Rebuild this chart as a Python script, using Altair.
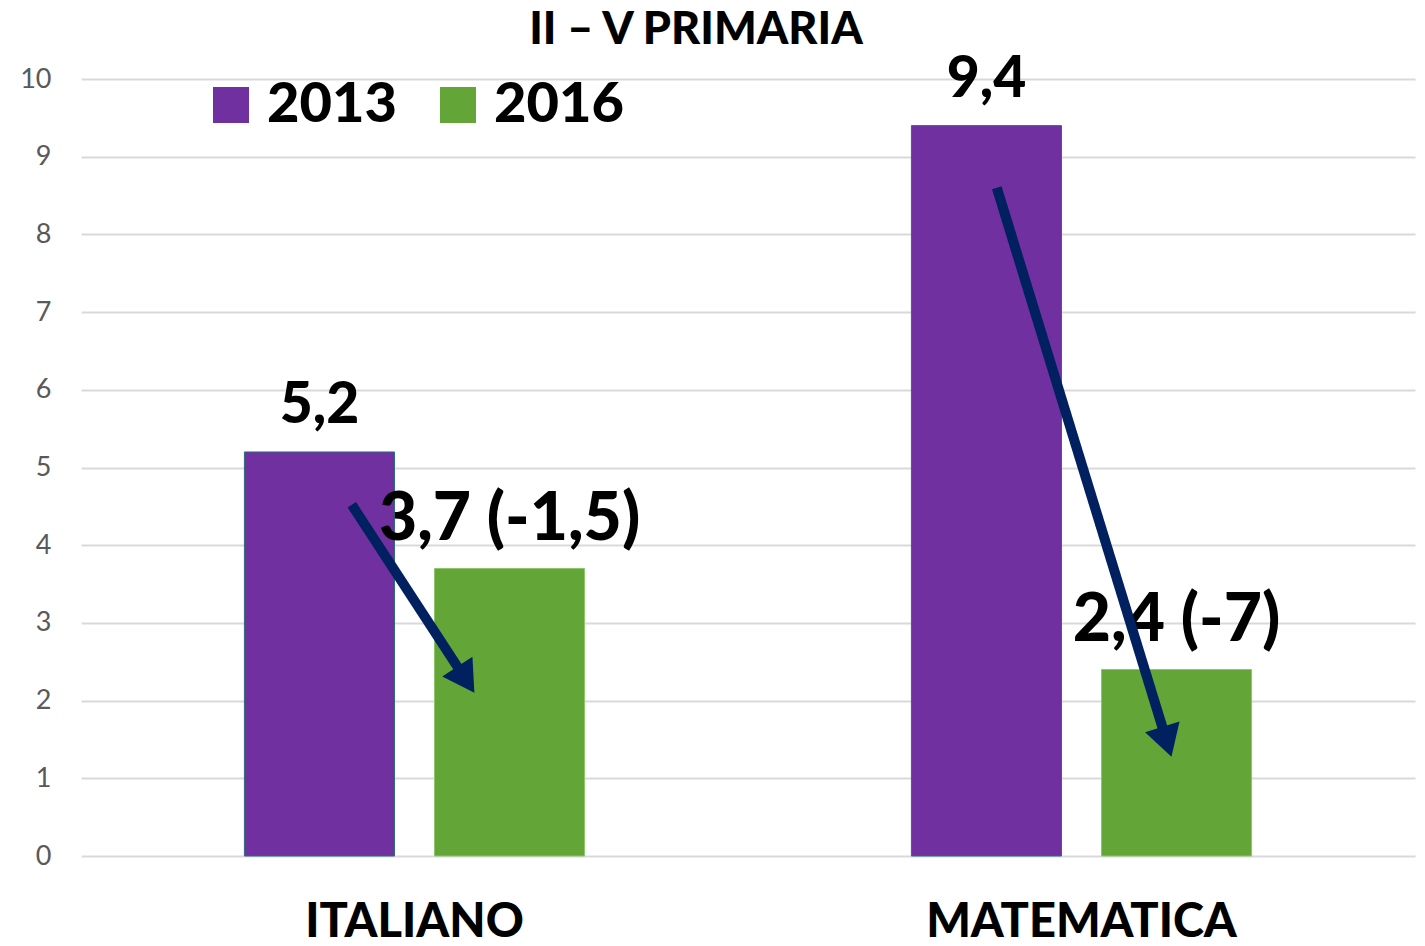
import math
import altair as alt
import pandas as pd

# ---- data ----
categories = ["ITALIANO", "MATEMATICA"]
years = ["2013", "2016"]
values_2013 = [5.2, 9.4]
values_2016 = [3.7, 2.4]
labels_2013 = ["5,2", "9,4"]
labels_2016 = ["3,7 (-1,5)", "2,4 (-7)"]
colors = ["#7030A0", "#63A537"]

# arrows: x in "category units" (0..2 across plot), y in value units
arrow_x_start = [0.406, 1.373]
arrow_y_start = [4.52, 8.60]
arrow_x_end = [0.577, 1.628]
arrow_y_end = [2.27, 1.47]

W, H = 1334, 777
FONT = "Lato"
WEIGHT = 900

rows = []
for i, c in enumerate(categories):
    rows.append({"cat": c, "year": years[0], "value": values_2013[i], "label": labels_2013[i]})
    rows.append({"cat": c, "year": years[1], "value": values_2016[i], "label": labels_2016[i]})
df = pd.DataFrame(rows)

arr_rows = []
for i in range(len(arrow_x_start)):
    dxp = (arrow_x_end[i] - arrow_x_start[i]) * W / 2
    dyp = (arrow_y_start[i] - arrow_y_end[i]) * H / 10
    ang = math.degrees(math.atan2(dxp, -dyp)) % 360
    arr_rows.append({"x1": arrow_x_start[i], "value": arrow_y_start[i],
                     "x2": arrow_x_end[i], "y2": arrow_y_end[i], "angle": ang})
adf = pd.DataFrame(arr_rows)

yscale = alt.Scale(domain=[0, 10], nice=False, zero=True)
yaxis = alt.Axis(title=None, values=list(range(0, 11)), domain=False, ticks=False,
                 tickSize=0, labelFont=FONT, labelFontSize=27, labelColor="#595959",
                 labelPadding=30, gridColor="#D9D9D9", gridWidth=2)

x_enc = alt.X("cat:N", sort=categories,
              scale=alt.Scale(paddingInner=0.49, paddingOuter=0.245),
              axis=alt.Axis(title=None, labelAngle=0, domain=False, ticks=False,
                            labelFont=FONT, labelFontSize=47, labelFontWeight=WEIGHT,
                            labelColor="#000000", labelPadding=43, labelBaseline="top",
                            labelLimit=0))
xoff = alt.XOffset("year:N", sort=years, scale=alt.Scale(paddingInner=0.2105, paddingOuter=0))
y_enc = alt.Y("value:Q", scale=yscale, axis=yaxis)

bars = alt.Chart(df).mark_bar(strokeWidth=1).encode(
    x=x_enc, xOffset=xoff, y=y_enc,
    color=alt.Color("year:N", sort=years,
                    scale=alt.Scale(domain=years, range=colors),
                    legend=alt.Legend(title=None, orient="none", legendX=122, legendY=-2,
                                      direction="horizontal", symbolType="square",
                                      symbolSize=1296, symbolStrokeWidth=0,
                                      labelFont=FONT, labelFontSize=56, labelFontWeight=WEIGHT,
                                      labelColor="#000000", labelOffset=8, columnPadding=33)),
    stroke=alt.Stroke("year:N", sort=years,
                      scale=alt.Scale(domain=years, range=["#2E6B80", "#8CC76A"]), legend=None),
)

label_sizes = {"2013": 57, "2016": 66}
text_layers = [
    alt.Chart(df).transform_filter(alt.datum.year == yr).mark_text(
        font=FONT, fontWeight=WEIGHT, color="#000000", fontSize=label_sizes[yr],
        baseline="alphabetic", align="center", dy=-29).encode(
        x=x_enc, xOffset=xoff, y=y_enc, text="label:N")
    for yr in years
]

xq = alt.Scale(domain=[0, 2], nice=False, zero=False)
lines = alt.Chart(adf).mark_rule(color="#002060", strokeWidth=10, strokeCap="butt").encode(
    x=alt.X("x1:Q", scale=xq, axis=None), x2="x2:Q",
    y=alt.Y("value:Q", scale=yscale, axis=yaxis), y2="y2:Q",
)
heads = alt.Chart(adf).mark_point(shape="triangle-up", filled=True, color="#002060",
                                  opacity=1, size=1300).encode(
    x=alt.X("x2:Q", scale=xq, axis=None),
    y=alt.Y("y2:Q", scale=yscale, axis=yaxis),
    angle=alt.Angle("angle:Q", scale=None),
)

chart = alt.layer(alt.layer(bars, *text_layers), lines, heads).resolve_scale(
    x="independent"
).properties(
    width=W, height=H,
    autosize=alt.AutoSizeParams(type="none"),
    padding={"left": 73, "top": 71, "right": 2, "bottom": 88},
    title=alt.TitleParams("II – V PRIMARIA", font=FONT, fontSize=45, fontWeight=WEIGHT,
                          color="#000000", anchor="middle", dx=-52, baseline="alphabetic",
                          offset=36, dy=74, frame="group"),
).configure_view(stroke=None)

chart.save("out.html", embed_options={"renderer": "svg", "actions": False})
